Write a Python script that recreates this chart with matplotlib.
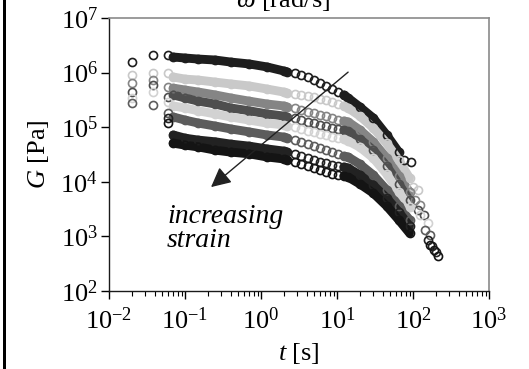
import numpy as np
import matplotlib
matplotlib.use("Agg")
import matplotlib.pyplot as plt
from matplotlib.patches import Rectangle

plt.rcParams['font.family'] = ['Liberation Serif', 'DejaVu Serif']
plt.rcParams['mathtext.fontset'] = 'custom'
plt.rcParams['mathtext.rm'] = 'Liberation Serif'
plt.rcParams['mathtext.it'] = 'Liberation Serif:italic'

# ---- data ----
t_early = [0.02, 0.038, 0.06]
t_band1 = [0.07, 0.1, 0.15, 0.25, 0.4, 0.7, 1.2, 2.0]
t_mid = [2.2, 2.8, 3.4, 4.1, 5.0, 6.0, 7.2, 8.6, 10.3, 12.3]
t_band2 = [14, 20, 30, 45, 65, 90]

nan = np.nan
s1_early = [1.56e6, 2.10e6, 2.10e6]
s1_band1 = [1.93e6, 1.85e6, 1.77e6, 1.70e6, 1.56e6, 1.44e6, 1.27e6, 1.07e6]
s1_mid = [1.03e6, 9.8e5, 9.0e5, 8.3e5, 7.3e5, 6.45e5, 5.7e5, 5.0e5, 4.4e5, 3.9e5]
s1_band2 = [3.43e5, 2.34e5, 1.47e5, 7.2e4, 3.5e4, nan]
s1_tail_t = [76, 94]
s1_tail = [2.5e4, 2.3e4]

s2_early = [9.0e5, 9.8e5, 9.8e5]
s2_band1 = [8.3e5, 7.6e5, 7.3e5, 6.7e5, 6.2e5, 5.7e5, 5.0e5, 4.4e5]
s2_mid = [4.2e5, 4.06e5, 3.9e5, 3.7e5, 3.57e5, 3.28e5, 3.15e5, 2.9e5, 2.66e5, 2.45e5]
s2_band2 = [2.25e5, 1.6e5, 9.7e4, 5.1e4, 2.5e4, 1.17e4]
s2_tail_t = [100, 116]
s2_tail = [8.0e3, 7.1e3]

s3_early = [6.45e5, 7.3e5, 5.45e5]
s3_band1 = [5.2e5, 4.8e5, 4.4e5, 3.9e5, 3.43e5, 3.0e5, 2.66e5, 2.45e5]
s3_mid = [2.34e5, 2.25e5, 2.07e5, 1.9e5, 1.82e5, 1.67e5, 1.6e5, 1.47e5, 1.35e5, 1.3e5]
s3_band2 = [1.25e5, 8.9e4, 5.4e4, 2.73e4, 1.28e4, 6.5e3]
s3_tail_t = [106, 124]
s3_tail = [4.6e3, 3.8e3]

s4_early = [4.4e5, 5.9e5, 3.57e5]
s4_band1 = [3.9e5, 3.43e5, 3.0e5, 2.66e5, 2.25e5, 2.0e5, 1.75e5, 1.6e5]
s4_mid = [1.54e5, 1.47e5, 1.35e5, 1.25e5, 1.19e5, 1.10e5, 1.05e5, 9.7e4, 9.3e4, 8.9e4]
s4_band2 = [8.5e4, 6.1e4, 3.8e4, 1.95e4, 9.1e3, 4.6e3]
s4_tail_t = [116, 140]
s4_tail = [3.05e3, 2.47e3]

s5_early = [3.43e5, 4.4e5, 2.9e5]
s5_band1 = [2.45e5, 2.25e5, 2.0e5, 1.75e5, 1.54e5, 1.35e5, 1.19e5, 1.10e5]
s5_mid = [1.05e5, 1.01e5, 9.3e4, 8.5e4, 8.2e4, 7.5e4, 7.2e4, 6.6e4, 6.3e4, 6.1e4]
s5_band2 = [5.6e4, 4.3e4, 2.73e4, 1.39e4, 6.5e3, 3.4e3]
s5_tail_t = [124, 157]
s5_tail = [2.47e3, 1.76e3]

s6_early = [2.77e5, 2.55e5, 1.82e5]
s6_band1 = [1.54e5, 1.35e5, 1.19e5, 1.05e5, 9.3e4, 8.2e4, 7.2e4, 6.6e4]
s6_mid = [6.3e4, 5.8e4, 5.4e4, 4.9e4, 4.5e4, 4.2e4, 3.8e4, 3.5e4, 3.25e4, 2.95e4]
s6_band2 = [2.85e4, 2.1e4, 1.33e4, 7.1e3, 3.6e3, 2.0e3]
s6_tail_t = [144, 167]
s6_tail = [1.31e3, 1.06e3]

s7_early = [nan, nan, 1.47e5]
s7_band1 = [7.2e4, 6.3e4, 5.8e4, 5.4e4, 4.9e4, 4.5e4, 4.0e4, 3.65e4]
s7_mid = [3.5e4, 3.25e4, 2.95e4, 2.73e4, 2.5e4, 2.3e4, 2.2e4, 2.03e4, 1.95e4, 1.87e4]
s7_band2 = [1.79e4, 1.33e4, 8.7e3, 5.05e3, 2.8e3, 1.55e3]
s7_tail_t = [157, 178, 201]
s7_tail = [860, 667, 518]

s8_early = [nan, nan, 1.19e5]
s8_band1 = [5.1e4, 4.7e4, 4.35e4, 3.8e4, 3.5e4, 3.25e4, 2.85e4, 2.62e4]
s8_mid = [2.5e4, 2.3e4, 2.1e4, 1.95e4, 1.79e4, 1.64e4, 1.51e4, 1.39e4, 1.33e4, 1.28e4]
s8_band2 = [1.22e4, 9.1e3, 6.2e3, 3.6e3, 2.0e3, 1.15e3]
s8_tail_t = [167, 190, 213]
s8_tail = [695, 564, 438]

series = [
    (s1_early, s1_band1, s1_mid, s1_band2, s1_tail_t, s1_tail),
    (s2_early, s2_band1, s2_mid, s2_band2, s2_tail_t, s2_tail),
    (s3_early, s3_band1, s3_mid, s3_band2, s3_tail_t, s3_tail),
    (s4_early, s4_band1, s4_mid, s4_band2, s4_tail_t, s4_tail),
    (s5_early, s5_band1, s5_mid, s5_band2, s5_tail_t, s5_tail),
    (s6_early, s6_band1, s6_mid, s6_band2, s6_tail_t, s6_tail),
    (s7_early, s7_band1, s7_mid, s7_band2, s7_tail_t, s7_tail),
    (s8_early, s8_band1, s8_mid, s8_band2, s8_tail_t, s8_tail),
]
colors = ['#1e1e1e', '#c9c9c9', '#858585', '#4e4e4e', '#d2d2d2', '#5c5c5c', '#222222', '#141414']

xticks = [1e-2, 1e-1, 1e0, 1e1, 1e2, 1e3]
xticklabels = [r'$10^{-2}$', r'$10^{-1}$', r'$10^{0}$', r'$10^{1}$', r'$10^{2}$', r'$10^{3}$']
yticks = [1e2, 1e3, 1e4, 1e5, 1e6, 1e7]
yticklabels = [r'$10^{2}$', r'$10^{3}$', r'$10^{4}$', r'$10^{5}$', r'$10^{6}$', r'$10^{7}$']

# ---- figure ----
W, H = 529, 369
fig = plt.figure(figsize=(W / 100, H / 100), dpi=100)
ax = fig.add_axes([109 / W, 1 - 291 / H, 380 / W, 273 / H])
ax.set_xscale('log')
ax.set_yscale('log')
ax.set_xlim(1e-2, 1e3)
ax.set_ylim(1e2, 1e7)

ms = 5.8
mew = 1.2
band_lw = 6.4

for (e, b1, m, b2, tt, tv), c in zip(series, colors):
    # dense bands (heavily overlapping markers)
    bt = np.array(t_band1 + [t_mid[0]])
    bv = np.array(b1 + [m[0]])
    ax.plot(bt, bv, '-', color=c, lw=band_lw, solid_capstyle='round', zorder=2)
    bt2 = np.array([t_mid[-1]] + t_band2)
    bv2 = np.array([m[-1]] + b2)
    ok = ~np.isnan(bv2)
    ax.plot(bt2[ok], bv2[ok], '-', color=c, lw=band_lw, solid_capstyle='round', zorder=2)
    # individual open circles
    allt = np.array(t_early + t_band1 + t_mid + t_band2 + list(tt), dtype=float)
    allv = np.array(e + b1 + m + b2 + list(tv), dtype=float)
    ok = ~np.isnan(allv)
    ax.plot(allt[ok], allv[ok], 'o', ms=ms, mew=mew, mfc='none', mec=c, zorder=3)

# arrow
ax.annotate('', xy=(0.22, 8.0e3), xytext=(14, 1.02e6),
            arrowprops=dict(arrowstyle='-|>', color='#222222', lw=1.0,
                            mutation_scale=30, shrinkA=0, shrinkB=0),
            zorder=6)
ax.text(0.058, 2.27e3, 'increasing', fontsize=20, style='italic', va='center', ha='left', zorder=6)
ax.text(0.058, 8.4e2, 'strain', fontsize=20, style='italic', va='center', ha='left', zorder=6)

ax.set_xticks(xticks)
ax.set_xticklabels(xticklabels)
ax.set_yticks(yticks)
ax.set_yticklabels(yticklabels)
ax.tick_params(axis='both', which='major', direction='out', length=6, width=1, labelsize=19)
ax.tick_params(axis='x', which='major', pad=6)
ax.tick_params(axis='y', which='major', pad=2)
ax.tick_params(axis='both', which='minor', direction='out', length=3.5, width=0.8)
ax.tick_params(top=False, right=False, which='both')
ax.xaxis.set_minor_locator(matplotlib.ticker.LogLocator(base=10, subs=np.arange(2, 10)))
ax.yaxis.set_minor_locator(matplotlib.ticker.LogLocator(base=10, subs=np.arange(2, 10)))
ax.xaxis.set_minor_formatter(matplotlib.ticker.NullFormatter())
ax.yaxis.set_minor_formatter(matplotlib.ticker.NullFormatter())

for s in ['top', 'right']:
    ax.spines[s].set_color('#8a8a8a')
    ax.spines[s].set_linewidth(1.2)
for s in ['left', 'bottom']:
    ax.spines[s].set_color('#1a1a1a')
    ax.spines[s].set_linewidth(1.0)

ax.set_ylabel(r'$\mathit{G}$ [Pa]', fontsize=19, labelpad=7)
ax.set_xlabel(r'$\mathit{t}$ [s]', fontsize=19, labelpad=5)

fig.text(283 / W, 1 - 7 / H, r'$\mathit{\omega}$ [rad/s]', fontsize=19, ha='center', va='baseline')
fig.patches.append(Rectangle((3 / W, 0), 3 / W, 1, transform=fig.transFigure,
                             facecolor='black', edgecolor='none'))

fig.savefig('out.png', dpi=100)
